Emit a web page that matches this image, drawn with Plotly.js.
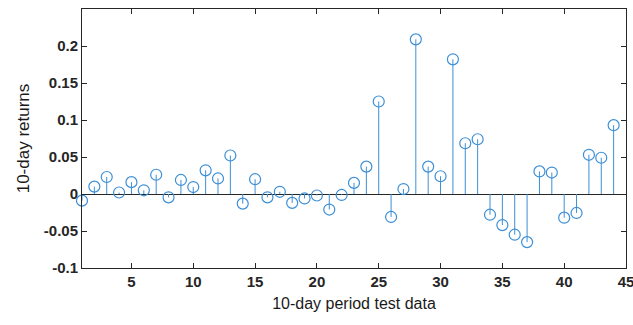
<!DOCTYPE html>
<html>
<head>
<meta charset="utf-8">
<script src="https://cdn.plot.ly/plotly-3.0.1.min.js"></script>
<style>html,body{margin:0;padding:0;background:#fff;}#chart{width:633px;height:325px;}</style>
</head>
<body>
<div id="chart"></div>
<script>
var periods = [];
for (var i = 1; i <= 44; i++) periods.push(i);
var returns10 = [-0.009, 0.010, 0.023, 0.002, 0.016, 0.005, 0.026, -0.0045, 0.019, 0.0094,
  0.032, 0.021, 0.052, -0.013, 0.020, -0.0045, 0.003, -0.012, -0.006, -0.002,
  -0.021, -0.0013, 0.015, 0.037, 0.125, -0.031, 0.0067, 0.209, 0.037, 0.024,
  0.182, 0.0686, 0.074, -0.028, -0.042, -0.055, -0.065, 0.0305, 0.029, -0.032,
  -0.0256, 0.053, 0.049, 0.093];
var xTicks = [5, 10, 15, 20, 25, 30, 35, 40, 45];
var yTicks = [-0.1, -0.05, 0, 0.05, 0.1, 0.15, 0.2];
var yTickLabels = ['-0.1', '-0.05', '0', '0.05', '0.1', '0.15', '0.2'];

var stemX = [], stemY = [];
for (var k = 0; k < periods.length; k++) {
  stemX.push(periods[k], periods[k], null);
  stemY.push(0, returns10[k], null);
}
var col = '#3d8fd6';
var data = [
  {x: stemX, y: stemY, type: 'scatter', mode: 'lines', line: {color: col, width: 1}, hoverinfo: 'skip', showlegend: false},
  {x: periods, y: returns10, type: 'scatter', mode: 'markers', cliponaxis: false,
   marker: {symbol: 'circle-open', size: 11, color: col, line: {width: 1.2, color: col}}, showlegend: false}
];
var tickFont = {family: 'Liberation Sans, Arial, sans-serif', size: 15, color: '#262626', weight: 'bold'};
var layout = {
  width: 633, height: 325,
  margin: {l: 82, r: 7, t: 9, b: 57},
  paper_bgcolor: '#fff', plot_bgcolor: '#fff',
  font: {family: 'Liberation Sans, Arial, sans-serif', color: '#262626'},
  xaxis: {
    range: [1, 45.0001], tickvals: xTicks, ticks: 'inside', ticklen: 5, tickcolor: '#262626',
    showline: true, linecolor: '#262626', linewidth: 1, mirror: 'ticks', showgrid: false, zeroline: false,
    tickfont: tickFont, ticklabeloverflow: 'allow',
    title: {text: '10-day period test data', font: {size: 16, color: '#1a1a1a'}, standoff: 8}
  },
  yaxis: {
    range: [-0.1, 0.25], tickvals: yTicks, ticktext: yTickLabels, ticks: 'inside', ticklen: 5, tickcolor: '#262626',
    showline: true, linecolor: '#262626', linewidth: 1, mirror: 'ticks', showgrid: false,
    zeroline: true, zerolinecolor: '#262626', zerolinewidth: 1,
    tickfont: tickFont,
    title: {text: '10-day returns', font: {size: 17, color: '#1a1a1a'}, standoff: 9}
  }
};
Plotly.newPlot('chart', data, layout, {displayModeBar: false, staticPlot: true});
</script>
</body>
</html>
